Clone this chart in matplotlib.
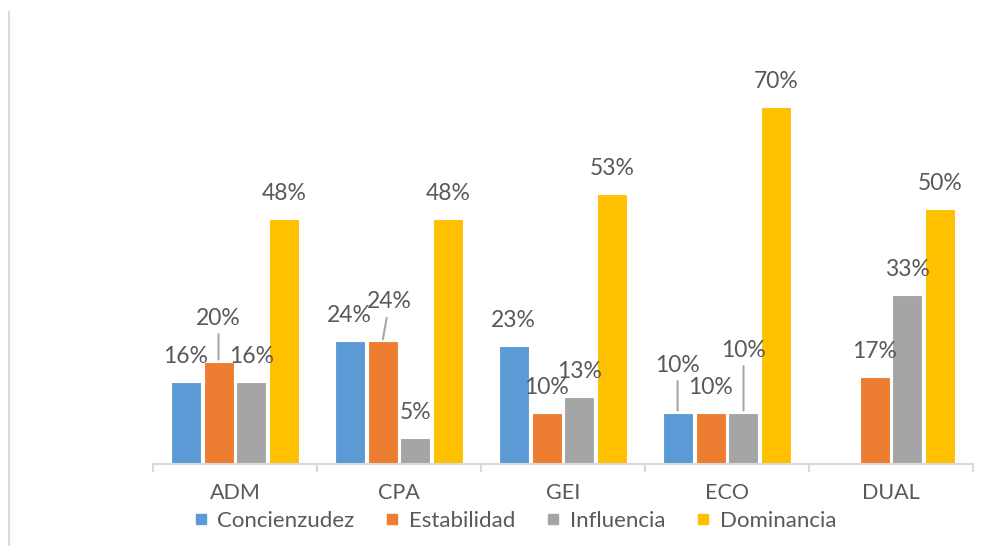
import numpy as np
import matplotlib
matplotlib.use("Agg")
import matplotlib.pyplot as plt
from matplotlib.lines import Line2D

carreras = ["ADM", "CPA", "GEI", "ECO", "DUAL"]
series = ["Concienzudez", "Estabilidad", "Influencia", "Dominancia"]
concienzudez = [16, 24, 23, 10, np.nan]
estabilidad = [20, 24, 10, 10, 17]
influencia = [16, 5, 13, 10, 33]
dominancia = [48, 48, 53, 70, 50]

colores = ["#5B9BD5", "#ED7D31", "#A5A5A5", "#FFC000"]
gris_texto = "#595959"
gris_linea = "#D9D9D9"

# etiquetas desplazadas (en pixeles, relativo a la parte alta de la barra)
desplazadas = {(0, 1): (0, 37), (1, 1): (7, 33), (3, 0): (0, 41), (3, 2): (0, 56)}

plt.rcParams["font.family"] = ["Lato", "DejaVu Sans"]

fig = plt.figure(figsize=(9.91, 5.46), dpi=100)
W, H = 991, 546
ax = fig.add_axes([153 / W, (H - 463.5) / H, (973 - 153) / W, 407.4 / H])

x = np.arange(len(carreras))
ancho = 0.183
paso = 0.201
valores = [concienzudez, estabilidad, influencia, dominancia]

for i, vals in enumerate(valores):
    pos = x + (i - 1.5) * paso
    ax.bar(pos, vals, width=ancho, color=colores[i], edgecolor="white",
           linewidth=0.8, label=series[i])
    for j, v in enumerate(vals):
        if np.isnan(v):
            continue
        dx, dy = desplazadas.get((j, i), (0, 19))
        props = None
        if (j, i) in desplazadas:
            props = dict(arrowstyle="-", color="#A6A6A6", lw=1.5, shrinkB=1.5)
        ax.annotate(f"{v:.0f}%", xy=(pos[j], v), xytext=(dx, dy),
                    textcoords="offset pixels", ha="center", va="baseline",
                    fontsize=16.5, color=gris_texto, arrowprops=props)

ax.set_xlim(-0.5, len(carreras) - 0.5)
ax.set_ylim(0, 80)
ax.set_yticks([])
for s in ["left", "right", "top"]:
    ax.spines[s].set_visible(False)
ax.spines["bottom"].set_color(gris_linea)
ax.spines["bottom"].set_linewidth(1.5)

ax.set_xticks(x)
ax.set_xticklabels(carreras, fontsize=15.5, color=gris_texto)
ax.tick_params(axis="x", which="major", length=0, pad=14)
ax.set_xticks(np.arange(-0.5, len(carreras)), minor=True)
ax.tick_params(axis="x", which="minor", length=5.5, width=1.5, color=gris_linea)

handles = [Line2D([], [], marker="s", linestyle="none", markersize=6.5,
                  color=c) for c in colores]
fig.legend(handles, series, loc="center", bbox_to_anchor=(515 / W, 1 - 521 / H),
           ncol=4, frameon=False, fontsize=16, labelcolor=gris_texto,
           handlelength=0.6, handletextpad=0.45, columnspacing=1.4)

fig.add_artist(Line2D([9 / W, 9 / W], [0, 1 - 12 / H], color=gris_linea, lw=1.5))

fig.savefig("out.png", dpi=100)
